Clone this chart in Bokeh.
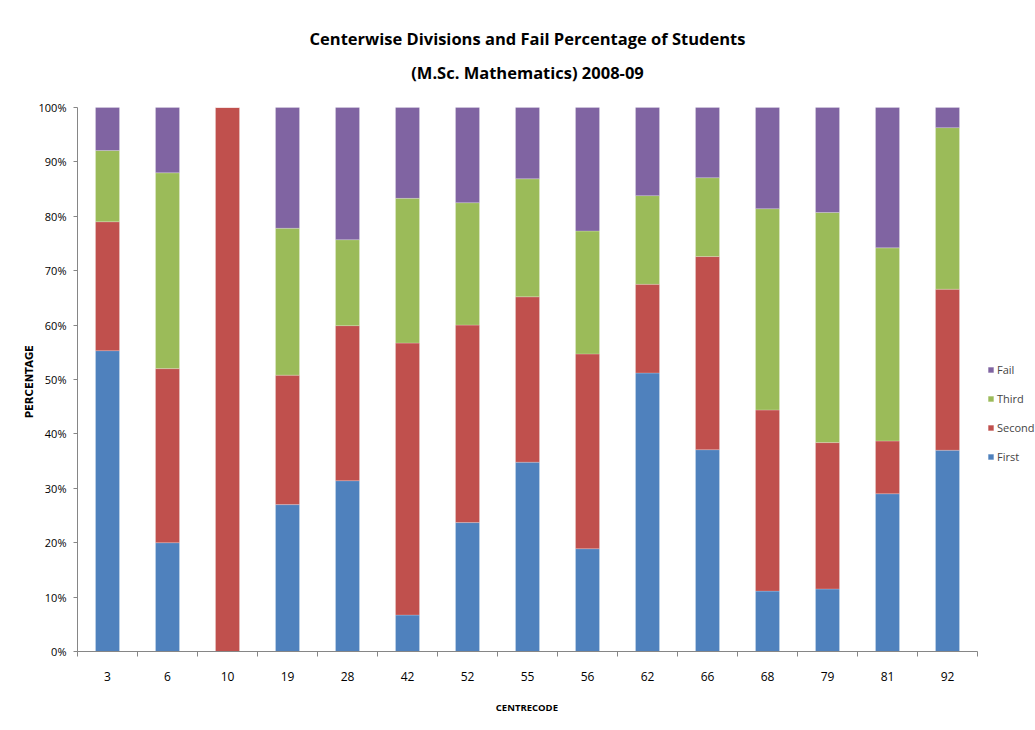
import numpy as np
from bokeh.plotting import figure
from bokeh.models import (ColumnDataSource, Range1d, FixedTicker, PrintfTickFormatter,
                          Legend, LegendItem, Label)
from bokeh.embed import file_html
from bokeh.resources import INLINE

# ---- data (percent of students per centre) ----
centres = ["3", "6", "10", "19", "28", "42", "52", "55", "56", "62", "66", "68", "79", "81", "92"]
first  = [55.3, 20.0, 0.0, 27.0, 31.4, 6.7, 23.7, 34.8, 18.9, 51.2, 37.1, 11.1, 11.5, 29.0, 37.0]
second = [23.7, 32.0, 100.0, 23.8, 28.5, 50.0, 36.3, 30.4, 35.8, 16.3, 35.5, 33.3, 26.9, 9.7, 29.6]
third  = [13.1, 36.0, 0.0, 27.0, 15.8, 26.6, 22.5, 21.7, 22.6, 16.3, 14.5, 37.0, 42.3, 35.5, 29.7]
fail   = [7.9, 12.0, 0.0, 22.2, 24.3, 16.7, 17.5, 13.1, 22.7, 16.2, 12.9, 18.6, 19.3, 25.8, 3.7]
series = ["First", "Second", "Third", "Fail"]
y_ticks = list(range(0, 101, 10))
title_lines = ["Centerwise Divisions and Fail Percentage of Students",
               "(M.Sc. Mathematics) 2008-09"]
x_title = "CENTRECODE"
y_title = "PERCENTAGE"

colors = ["#4F81BD", "#C0504D", "#9BBB59", "#8064A2"]
FONT = "Open Sans"
AXIS_C = "#868686"
NBSP = "\u00a0"

# layout geometry (pixels)
W, H = 1035, 728
LEFT, BOTTOM = 77, 77          # borders
PLOT_W, PLOT_H = 900, 544      # width of 15 categories, height of 0..100 %
n = len(centres)
frame_w = W - LEFT
frame_h = H - BOTTOM
x_end = n * frame_w / PLOT_W
y_end = 100 * frame_h / PLOT_H

xpos = [i + 0.5 for i in range(n)]
source = ColumnDataSource(dict(x=xpos, First=first, Second=second, Third=third, Fail=fail))

p = figure(width=W, height=H, x_range=Range1d(0, x_end), y_range=Range1d(0, y_end),
           output_backend="svg", toolbar_location=None, title=None,
           min_border_left=LEFT, min_border_right=0, min_border_top=0, min_border_bottom=BOTTOM)
p.outline_line_color = None
p.xgrid.visible = False
p.ygrid.visible = False

rs = p.vbar_stack(series, x="x", width=0.4, color=colors, source=source,
                  line_color="white", line_alpha=0.35, line_width=0.6)

# x axis
xa = p.xaxis[0]
xa.bounds = (0, n)
xa.ticker = FixedTicker(ticks=xpos, minor_ticks=list(range(n + 1)))
xa.major_label_overrides = {float(x): c for x, c in zip(xpos, centres)}
xa.major_tick_out = 0
xa.major_tick_in = 0
xa.minor_tick_out = 5
xa.minor_tick_in = 0
xa.minor_tick_line_color = AXIS_C
xa.axis_line_color = AXIS_C
xa.major_label_text_font = FONT
xa.major_label_text_font_size = "12px"
xa.major_label_text_color = "black"
xa.major_label_standoff = 15
# trailing no-break spaces shift the label's centre over the bars (not the whole frame)
xa.axis_label = x_title + NBSP * 24
xa.axis_label_text_font = FONT
xa.axis_label_text_font_size = "9.5px"
xa.axis_label_text_font_style = "bold"
xa.axis_label_text_color = "black"
xa.axis_label_standoff = 17

# y axis
ya = p.yaxis[0]
ya.bounds = (0, 100)
ya.ticker = FixedTicker(ticks=y_ticks, minor_ticks=[])
ya.formatter = PrintfTickFormatter(format="%d%%")
ya.major_tick_out = 4
ya.major_tick_in = 0
ya.major_tick_line_color = AXIS_C
ya.axis_line_color = AXIS_C
ya.major_label_text_font = FONT
ya.major_label_text_font_size = "11px"
ya.major_label_text_color = "black"
ya.major_label_standoff = 7
ya.axis_label = y_title + NBSP * 32
ya.axis_label_text_font = "DejaVu Sans"
ya.axis_label_text_font_size = "10px"
ya.axis_label_text_font_style = "bold"
ya.axis_label_text_color = "black"
ya.axis_label_standoff = 1

# two-line title centred over the bars
for line, sy in zip(title_lines, [651 - 38, 651 - 72]):
    p.add_layout(Label(x=n / 2, y=sy, x_units="data", y_units="screen", text=line,
                       text_align="center", text_baseline="middle", text_font=FONT,
                       text_font_size="16.5px", text_font_style="bold", text_color="black"))

items = [LegendItem(label=s, renderers=[r]) for s, r in zip(series, rs)][::-1]
legend = Legend(items=items, location=(910, 185), padding=0, margin=0, spacing=9,
                glyph_width=7, glyph_height=7, label_height=20, label_standoff=3,
                label_text_font=FONT, label_text_font_size="11px",
                background_fill_alpha=0, border_line_color=None)
p.add_layout(legend)

open("out.html", "w").write(file_html(p, INLINE))
